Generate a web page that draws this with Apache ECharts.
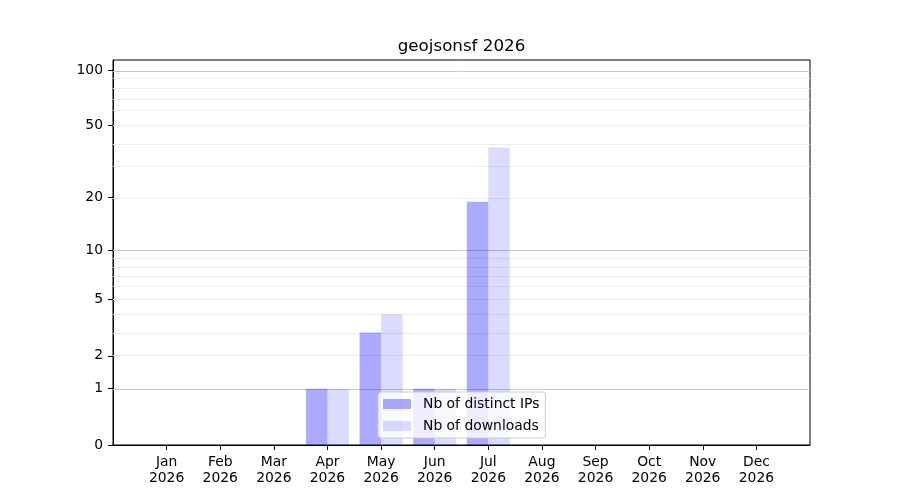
<!DOCTYPE html>
<html><head><meta charset="utf-8">
<script src="https://cdn.jsdelivr.net/npm/echarts@6/dist/echarts.min.js"></script>
<style>html,body{margin:0;padding:0;background:#fff}#c{width:900px;height:500px}</style>
</head><body><div id="c"></div>
<script>
const chartTitle = 'geojsonsf 2026';
const months = ['Jan','Feb','Mar','Apr','May','Jun','Jul','Aug','Sep','Oct','Nov','Dec'];
const year = '2026';
const distinctIPs = [0,0,0,1,3,1,19,0,0,0,0,0];
const downloads   = [0,0,0,1,4,1,38,0,0,0,0,0];
const yTickLabels = [0,1,2,5,10,20,50,100];
const majorGrid = [1,10,100];
const minorGrid = [2,3,4,5,6,7,8,9,20,30,40,50,60,70,80,90];
const yTop = 113.5;

const tf = v => Math.log10(v + 1);
const FONT = 'DejaVu Sans';
const chart = echarts.init(document.getElementById('c'), null, {renderer:'canvas'});
const monthIdx = months.map((m,i)=>i);

chart.setOption({
  animation: false,
  backgroundColor: '#fff',
  graphic: [{
    type: 'text', x: 461.5, y: 38.5,
    style: { text: chartTitle, align: 'center', fill: '#000', font: '16.7px "DejaVu Sans"' }
  }],
  grid: { left: 113, right: 90, top: 60, bottom: 55, show: true, borderColor: '#000', borderWidth: 1, backgroundColor: 'transparent' },
  legend: {
    orient: 'vertical', left: 378, top: 392,
    data: ['Nb of distinct IPs','Nb of downloads'],
    icon: 'rect', itemWidth: 28, itemHeight: 10, itemGap: 8,
    backgroundColor: 'rgba(255,255,255,0.8)', borderColor: '#cccccc', borderWidth: 1, borderRadius: 3,
    padding: [5,6,5,5],
    textStyle: { fontFamily: FONT, fontSize: 13.9, color: '#000', padding: [0,0,0,7] }
  },
  xAxis: {
    type: 'value', min: -1, max: 12,
    axisLine: { show: true, onZero: false, lineStyle: { color: '#000', width: 1 } },
    axisTick: { show: true, length: 5, lineStyle: { color: '#000', width: 1 }, customValues: monthIdx },
    axisLabel: { customValues: monthIdx, margin: 9, fontFamily: FONT, fontSize: 13.9, color: '#000', lineHeight: 16,
      formatter: v => months[Math.round(v)] + '\n' + year },
    splitLine: { show: false }
  },
  yAxis: {
    type: 'value', min: 0, max: tf(yTop),
    axisLine: { show: true, onZero: false, lineStyle: { color: '#000', width: 1 } },
    axisTick: { show: true, length: 5, lineStyle: { color: '#000', width: 1 }, customValues: yTickLabels.map(tf) },
    axisLabel: { customValues: yTickLabels.map(tf), margin: 10, fontFamily: FONT, fontSize: 13.9, color: '#000',
      formatter: v => String(Math.round(Math.pow(10, v) - 1)) },
    splitLine: { show: false }
  },
  series: [
    {
      name: 'Nb of distinct IPs', type: 'bar', z: 2,
      data: distinctIPs.map((v,i)=>[i, tf(v)]),
      barWidth: 21.5, barGap: '0%',
      itemStyle: { color: 'rgba(0,0,255,0.333)' },
      markLine: {
        silent: true, symbol: 'none', z: 1, animation: false,
        label: { show: false },
        data: majorGrid.map(v => ({ yAxis: tf(v), lineStyle: { color: '#c8c8c8', width: 1, type: 'solid' } }))
          .concat(minorGrid.map(v => ({ yAxis: tf(v), lineStyle: { color: '#ececec', width: 1, type: 'solid' } })))
      }
    },
    {
      name: 'Nb of downloads', type: 'bar', z: 2,
      data: downloads.map((v,i)=>[i, tf(v)]),
      barWidth: 21.5, barGap: '0%',
      itemStyle: { color: 'rgba(0,0,255,0.14)' }
    }
  ]
});
</script></body></html>
